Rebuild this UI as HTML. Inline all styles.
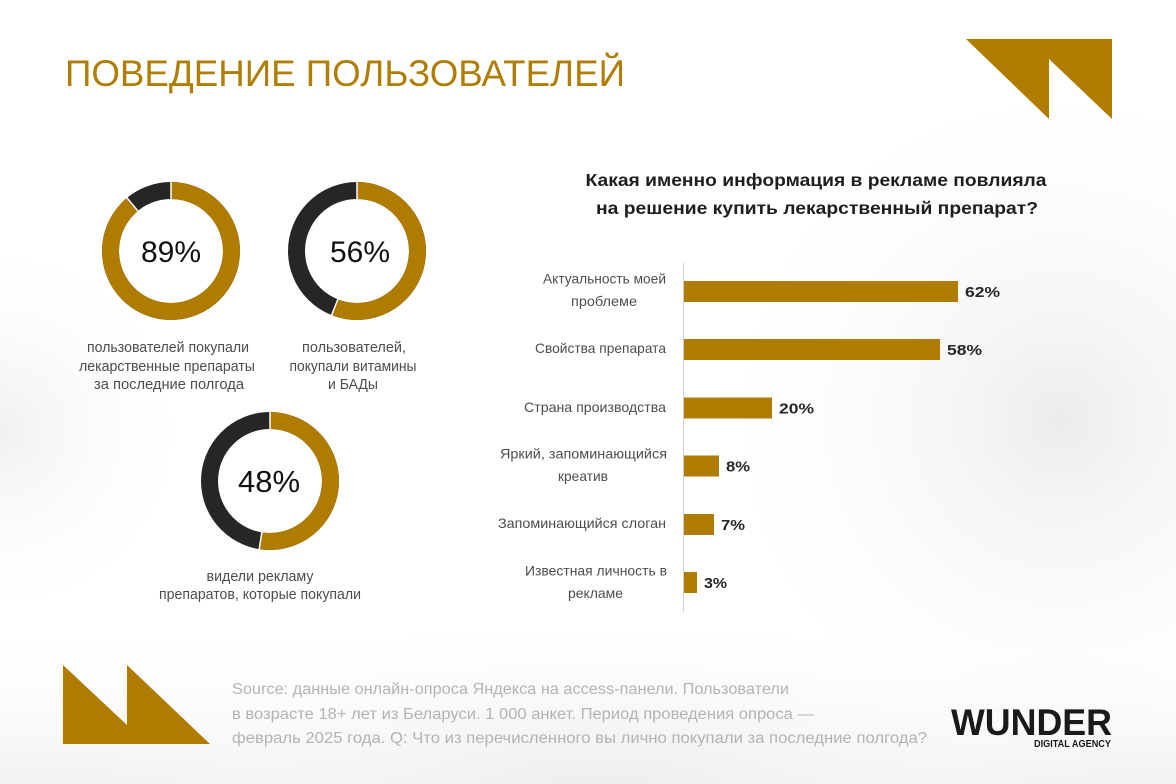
<!DOCTYPE html>
<html>
<head>
<meta charset="utf-8">
<style>
html,body{margin:0;padding:0;background:#fff;}
svg{display:block;}
text{font-family:"Liberation Sans","Noto Sans CJK SC",sans-serif;}
</style>
</head>
<body>
<svg width="1176" height="784" viewBox="0 0 1176 784" xmlns="http://www.w3.org/2000/svg">
<defs>
  <radialGradient id="gR" cx="1060" cy="420" r="360" gradientUnits="userSpaceOnUse">
    <stop offset="0" stop-color="#ececec"/>
    <stop offset="1" stop-color="#ffffff" stop-opacity="0"/>
  </radialGradient>
  <radialGradient id="gB" cx="600" cy="790" r="520" gradientTransform="translate(0 790) scale(1 0.35) translate(0 -790)" gradientUnits="userSpaceOnUse">
    <stop offset="0" stop-color="#ededed"/>
    <stop offset="1" stop-color="#ffffff" stop-opacity="0"/>
  </radialGradient>
  <radialGradient id="gL" cx="0" cy="430" r="200" gradientUnits="userSpaceOnUse">
    <stop offset="0" stop-color="#f0f0f0"/>
    <stop offset="1" stop-color="#ffffff" stop-opacity="0"/>
  </radialGradient>
  <linearGradient id="gBot" x1="0" y1="620" x2="0" y2="784" gradientUnits="userSpaceOnUse">
    <stop offset="0" stop-color="#ffffff" stop-opacity="0"/>
    <stop offset="1" stop-color="#f1f1f1"/>
  </linearGradient>
</defs>

<rect width="1176" height="784" fill="#ffffff"/>
<rect width="1176" height="784" fill="url(#gR)"/>
<rect width="1176" height="784" fill="url(#gL)"/>
<rect x="0" y="600" width="1176" height="184" fill="url(#gBot)"/>
<rect width="1176" height="784" fill="url(#gB)"/>

<!-- Title -->
<text x="65" y="86" font-size="37" fill="#b07e05" textLength="560" lengthAdjust="spacingAndGlyphs">ПОВЕДЕНИЕ ПОЛЬЗОВАТЕЛЕЙ</text>

<!-- Top-right logo shape -->
<polygon points="966,39 1112,39 1112,119 1049,59 1049,119" fill="#b07c00"/>

<!-- Bottom-left shape -->
<polygon points="63,665 127,725 127,665 210,744 63,744" fill="#b07c00"/>

<!-- Donut 1: 89% -->
<g>
  <circle cx="171" cy="251" r="60.5" fill="none" stroke="#262626" stroke-width="17"/>
  <circle cx="171" cy="251" r="60.5" fill="none" stroke="#b07c00" stroke-width="17" stroke-dasharray="338.3 400" transform="rotate(-90 171 251)"/>
  <line x1="171" y1="180" x2="171" y2="201" stroke="#fff" stroke-width="1.5"/>
  <line x1="138.5" y1="211.7" x2="125.8" y2="196.4" stroke="#fff" stroke-width="1.5"/>
  <text x="171" y="262" font-size="30" fill="#111" text-anchor="middle">89%</text>
  <text x="168" y="352" font-size="14.5" fill="#4d4d4d" text-anchor="middle" textLength="162" lengthAdjust="spacingAndGlyphs">пользователей покупали</text>
  <text x="167" y="371" font-size="14.5" fill="#4d4d4d" text-anchor="middle" textLength="176" lengthAdjust="spacingAndGlyphs">лекарственные препараты</text>
  <text x="169" y="389" font-size="14.5" fill="#4d4d4d" text-anchor="middle" textLength="150" lengthAdjust="spacingAndGlyphs">за последние полгода</text>
</g>

<!-- Donut 2: 56% -->
<g>
  <circle cx="357" cy="251" r="60.5" fill="none" stroke="#262626" stroke-width="17"/>
  <circle cx="357" cy="251" r="60.5" fill="none" stroke="#b07c00" stroke-width="17" stroke-dasharray="212.9 400" transform="rotate(-90 357 251)"/>
  <line x1="357" y1="180" x2="357" y2="201" stroke="#fff" stroke-width="1.5"/>
  <line x1="338.2" y1="298.4" x2="330.9" y2="316.9" stroke="#fff" stroke-width="1.5"/>
  <text x="360" y="262" font-size="30" fill="#111" text-anchor="middle">56%</text>
  <text x="354" y="352" font-size="14.5" fill="#4d4d4d" text-anchor="middle" textLength="104" lengthAdjust="spacingAndGlyphs">пользователей,</text>
  <text x="353" y="371" font-size="14.5" fill="#4d4d4d" text-anchor="middle" textLength="127" lengthAdjust="spacingAndGlyphs">покупали витамины</text>
  <text x="353" y="389" font-size="14.5" fill="#4d4d4d" text-anchor="middle" textLength="50" lengthAdjust="spacingAndGlyphs">и БАДы</text>
</g>

<!-- Donut 3: 48% -->
<g>
  <circle cx="270" cy="481" r="60.5" fill="none" stroke="#262626" stroke-width="17"/>
  <circle cx="270" cy="481" r="60.5" fill="none" stroke="#b07c00" stroke-width="17" stroke-dasharray="199.6 400" transform="rotate(-90 270 481)"/>
  <line x1="270" y1="410" x2="270" y2="431" stroke="#fff" stroke-width="1.5"/>
  <line x1="262" y1="531.4" x2="258.9" y2="551" stroke="#fff" stroke-width="1.5"/>
  <text x="269" y="492" font-size="31" fill="#111" text-anchor="middle">48%</text>
  <text x="260" y="581" font-size="14.5" fill="#4d4d4d" text-anchor="middle" textLength="107" lengthAdjust="spacingAndGlyphs">видели рекламу</text>
  <text x="260" y="599" font-size="14.5" fill="#4d4d4d" text-anchor="middle" textLength="202" lengthAdjust="spacingAndGlyphs">препаратов, которые покупали</text>
</g>

<!-- Bar chart title -->
<text x="816" y="186" font-size="17.5" font-weight="bold" fill="#1e1e1e" text-anchor="middle" textLength="461" lengthAdjust="spacingAndGlyphs">Какая именно информация в рекламе повлияла</text>
<text x="817" y="214" font-size="17.5" font-weight="bold" fill="#1e1e1e" text-anchor="middle" textLength="442" lengthAdjust="spacingAndGlyphs">на решение купить лекарственный препарат?</text>

<!-- Axis -->
<line x1="683.5" y1="263" x2="683.5" y2="612" stroke="#cfcfcf" stroke-width="1"/>

<!-- Bars -->
<g fill="#b07c00">
  <rect x="684" y="281" width="274" height="21"/>
  <rect x="684" y="339" width="256" height="21"/>
  <rect x="684" y="397.5" width="88" height="21"/>
  <rect x="684" y="455.5" width="35" height="21"/>
  <rect x="684" y="514" width="30" height="21"/>
  <rect x="684" y="572" width="13" height="21"/>
</g>

<!-- Value labels -->
<g font-size="14.5" font-weight="bold" fill="#262626">
  <text x="965" y="297" textLength="35" lengthAdjust="spacingAndGlyphs">62%</text>
  <text x="947" y="355" textLength="35" lengthAdjust="spacingAndGlyphs">58%</text>
  <text x="779" y="413.5" textLength="35" lengthAdjust="spacingAndGlyphs">20%</text>
  <text x="726" y="471.5" textLength="24" lengthAdjust="spacingAndGlyphs">8%</text>
  <text x="721" y="530" textLength="24" lengthAdjust="spacingAndGlyphs">7%</text>
  <text x="704" y="588" textLength="23" lengthAdjust="spacingAndGlyphs">3%</text>
</g>

<!-- Category labels -->
<g font-size="14" fill="#4d4d4d">
  <text x="604.5" y="283.5" text-anchor="middle" textLength="123" lengthAdjust="spacingAndGlyphs">Актуальность моей</text>
  <text x="604" y="306" text-anchor="middle" textLength="66" lengthAdjust="spacingAndGlyphs">проблеме</text>
  <text x="666" y="353" text-anchor="end" textLength="131" lengthAdjust="spacingAndGlyphs">Свойства препарата</text>
  <text x="666" y="412" text-anchor="end" textLength="142" lengthAdjust="spacingAndGlyphs">Страна производства</text>
  <text x="583.5" y="458.5" text-anchor="middle" textLength="167" lengthAdjust="spacingAndGlyphs">Яркий, запоминающийся</text>
  <text x="583" y="481" text-anchor="middle" textLength="50" lengthAdjust="spacingAndGlyphs">креатив</text>
  <text x="666" y="528" text-anchor="end" textLength="168" lengthAdjust="spacingAndGlyphs">Запоминающийся слоган</text>
  <text x="596" y="575.5" text-anchor="middle" textLength="142" lengthAdjust="spacingAndGlyphs">Известная личность в</text>
  <text x="595.5" y="598" text-anchor="middle" textLength="55" lengthAdjust="spacingAndGlyphs">рекламе</text>
</g>

<!-- Source text -->
<g font-size="15.5" fill="#b3b3b3">
  <text x="232" y="694" textLength="557" lengthAdjust="spacingAndGlyphs">Source: данные онлайн-опроса Яндекса на access-панели. Пользователи</text>
  <text x="232" y="719" textLength="582" lengthAdjust="spacingAndGlyphs">в возрасте 18+ лет из Беларуси. 1 000 анкет. Период проведения опроса —</text>
  <text x="232" y="743" textLength="695" lengthAdjust="spacingAndGlyphs">февраль 2025 года. Q: Что из перечисленного вы лично покупали за последние полгода?</text>
</g>

<!-- WUNDER logo -->
<text x="951" y="735" font-size="37" font-weight="bold" fill="#1a1a1a" textLength="161" lengthAdjust="spacingAndGlyphs" style='font-family:"Liberation Sans Narrow","Liberation Sans",sans-serif;'>WUNDER</text>
<text x="1034" y="747" font-size="10.5" font-weight="bold" fill="#1a1a1a" textLength="77" lengthAdjust="spacingAndGlyphs" style='font-family:"Liberation Sans Narrow","Liberation Sans",sans-serif;'>DIGITAL AGENCY</text>

</svg>
</body>
</html>
